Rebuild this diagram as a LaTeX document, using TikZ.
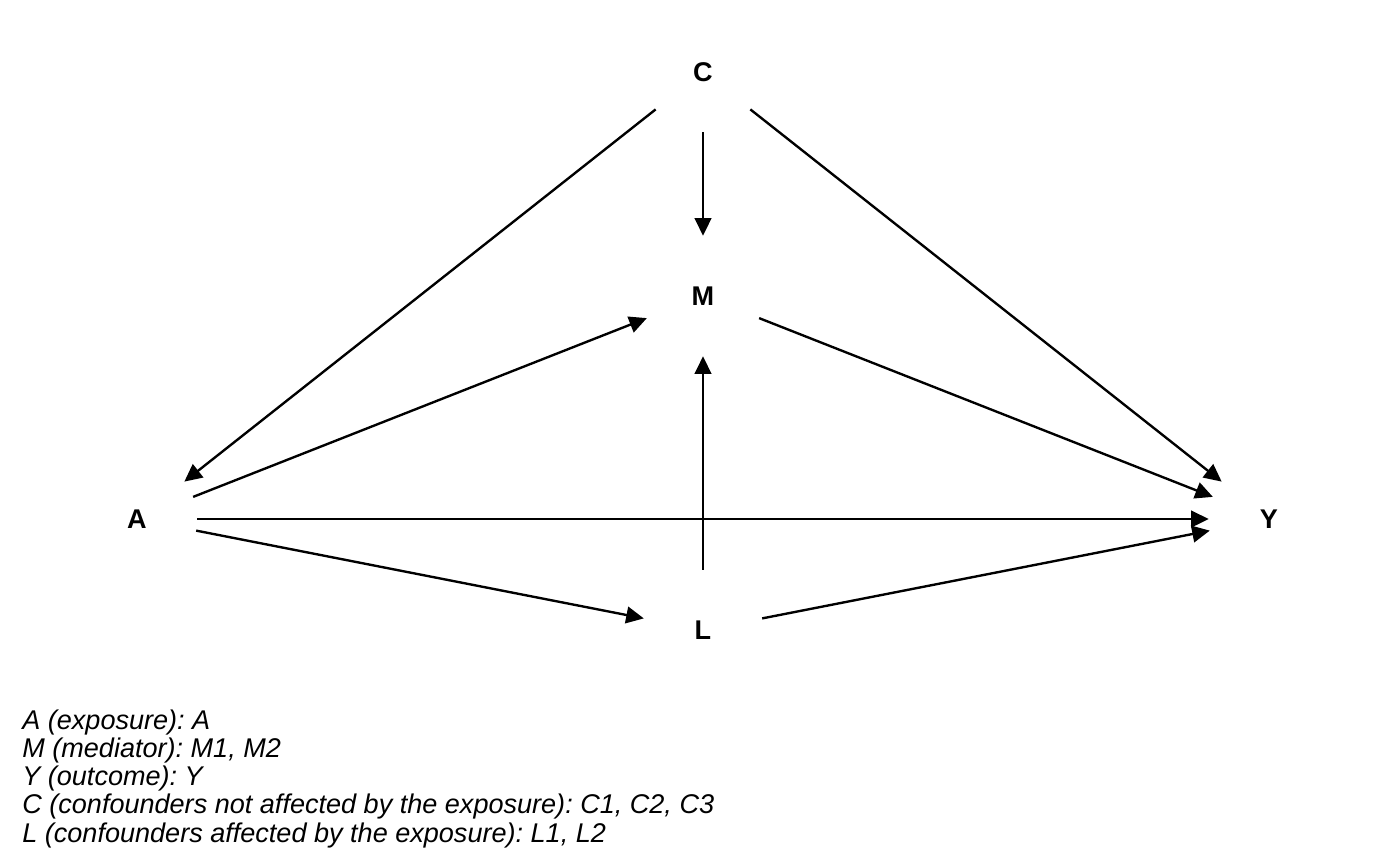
\documentclass[tikz,border=0pt]{standalone}
\usepackage{fontspec}
\setmainfont{Liberation Sans}
\usetikzlibrary{arrows.meta}
\frenchspacing
\tikzset{
  every node/.style={font=\fontsize{15.4}{17}\selectfont},
  var/.style={circle, minimum size=2.4cm, inner sep=0pt,
              font=\fontsize{15.4}{17}\selectfont\bfseries},
  edge/.style={line width=1.35pt,
               -{Triangle[length=10pt, width=9.5pt]}},
  key/.style={anchor=base west, inner sep=0pt,
              font=\fontsize{15.4}{17}\selectfont\itshape},
}
\begin{document}
\begin{tikzpicture}[x=0.02cm, y=-0.02cm]
\useasboundingbox (0,0) rectangle (1400,866);
% variables
\node[var] (C) at (703,72)  {C};
\node[var] (M) at (703,296) {M};
\node[var] (A) at (137,519) {A};
\node[var] (Y) at (1269,519) {Y};
\node[var] (L) at (703,630) {L};
% paths
\draw[edge] (C) -- (A);
\draw[edge] (C) -- (M);
\draw[edge] (C) -- (Y);
\draw[edge] (A) -- (M);
\draw[edge] (M) -- (Y);
\draw[edge] (A) -- (Y);
\draw[edge] (A) -- (L);
\draw[edge] (L) -- (Y);
\draw[edge] (L) -- (M);
% legend
\foreach \txt [count=\i] in {{A (exposure): A},
                             {M (mediator): M1, M2},
                             {Y (outcome): Y},
                             {C (confounders not affected by the exposure): C1, C2, C3},
                             {L (confounders affected by the exposure): L1, L2}}
  \node[key] (key\i) at (22,{729+28.3*(\i-1)}) {\txt};
\end{tikzpicture}
\end{document}
